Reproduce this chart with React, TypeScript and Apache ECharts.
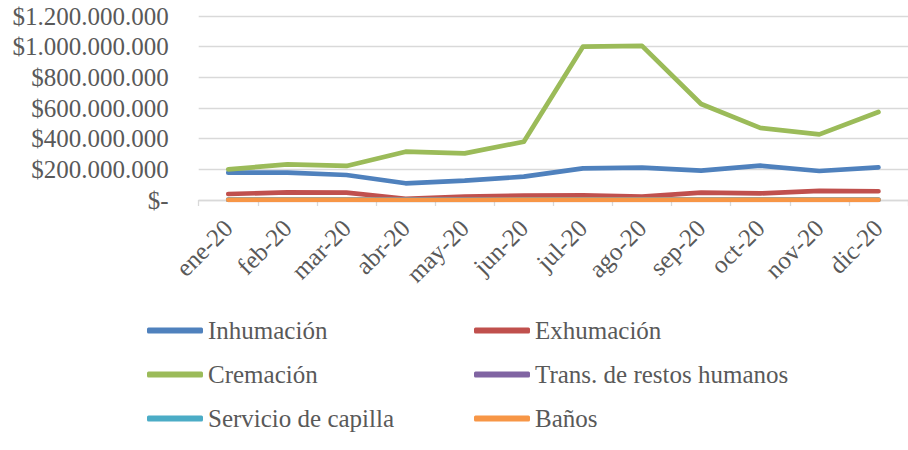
import React, { useEffect, useRef } from "react";
import * as echarts from "echarts";

const months = ["ene-20", "feb-20", "mar-20", "abr-20", "may-20", "jun-20", "jul-20", "ago-20", "sep-20", "oct-20", "nov-20", "dic-20"];

const inhumacion = [178e6, 178e6, 163e6, 109e6, 126e6, 152e6, 206e6, 211e6, 191e6, 224e6, 189e6, 213e6];
const exhumacion = [39e6, 50e6, 48e6, 8e6, 22e6, 28e6, 31e6, 22e6, 48e6, 43e6, 59e6, 57e6];
const cremacion = [200e6, 232e6, 222e6, 315e6, 304e6, 380e6, 1000e6, 1005e6, 626e6, 470e6, 428e6, 574e6];
const traslados = [1e6, 1e6, 1e6, 1e6, 1e6, 1e6, 1e6, 1e6, 1e6, 1e6, 1e6, 1e6];
const capilla = [2e6, 2e6, 2e6, 1e6, 1e6, 2e6, 2e6, 2e6, 2e6, 2e6, 2e6, 2e6];
const banos = [1e6, 1e6, 1e6, 0, 0, 1e6, 1e6, 1e6, 1e6, 1e6, 1e6, 1e6];

const yMax = 1.2e9;
const yStep = 2e8;

const seriesDefs = [
  { name: "Inhumación", data: inhumacion, color: "#4F81BD" },
  { name: "Exhumación", data: exhumacion, color: "#C0504D" },
  { name: "Cremación", data: cremacion, color: "#9BBB59" },
  { name: "Trans. de restos humanos", data: traslados, color: "#8064A2" },
  { name: "Servicio de capilla", data: capilla, color: "#4BACC6" },
  { name: "Baños", data: banos, color: "#F79646" },
];

const FONT = "Liberation Serif";
const TXT = "#595959";

function fmtMoney(v: number): string {
  if (v === 0) return "$-";
  const s = Math.round(v).toString().replace(/\B(?=(\d{3})+(?!\d))/g, ".");
  return "$" + s;
}

export default function App() {
  const ref = useRef<HTMLDivElement>(null);
  useEffect(() => {
    if (!ref.current) return;
    const chart = echarts.init(ref.current, undefined, { renderer: "svg" });
    const legendCommon = {
      orient: "vertical" as const,
      top: 313,
      itemWidth: 56,
      itemHeight: 6,
      itemGap: 19,
      icon: "roundRect",
      textStyle: { fontFamily: FONT, fontSize: 25, color: TXT, lineHeight: 25 },
    };
    chart.setOption({
      animation: false,
      backgroundColor: "#ffffff",
      grid: { left: 198.7, right: -10.7, top: 16, bottom: 250, containLabel: false },
      legend: [
        { ...legendCommon, left: 142, data: ["Inhumación", "Cremación", "Servicio de capilla"] },
        { ...legendCommon, left: 469, data: ["Exhumación", "Trans. de restos humanos", "Baños"] },
      ],
      xAxis: {
        type: "category",
        data: months,
        boundaryGap: true,
        axisLine: { show: true, lineStyle: { color: "#d9d9d9", width: 1.3 } },
        axisTick: { show: true, length: 6, lineStyle: { color: "#d9d9d9", width: 1.3 } },
        axisLabel: { rotate: 45, margin: 24, fontFamily: FONT, fontSize: 25, color: TXT, interval: 0 },
      },
      yAxis: {
        type: "value",
        min: 0,
        max: yMax,
        interval: yStep,
        axisLine: { show: false },
        axisTick: { show: false },
        splitLine: { show: true, lineStyle: { color: "#d9d9d9", width: 1.3 } },
        axisLabel: { margin: 30, fontFamily: FONT, fontSize: 25, color: TXT, formatter: fmtMoney },
      },
      series: seriesDefs.map((s) => ({
        name: s.name,
        type: "line",
        data: s.data,
        showSymbol: false,
        symbol: "none",
        smooth: false,
        color: s.color,
        lineStyle: { width: 4.7, color: s.color, cap: "round", join: "round" },
        itemStyle: { color: s.color },
      })),
    });
    return () => chart.dispose();
  }, []);
  return <div ref={ref} style={{ width: 908, height: 450, position: "absolute", left: 0, top: 0 }} />;
}
